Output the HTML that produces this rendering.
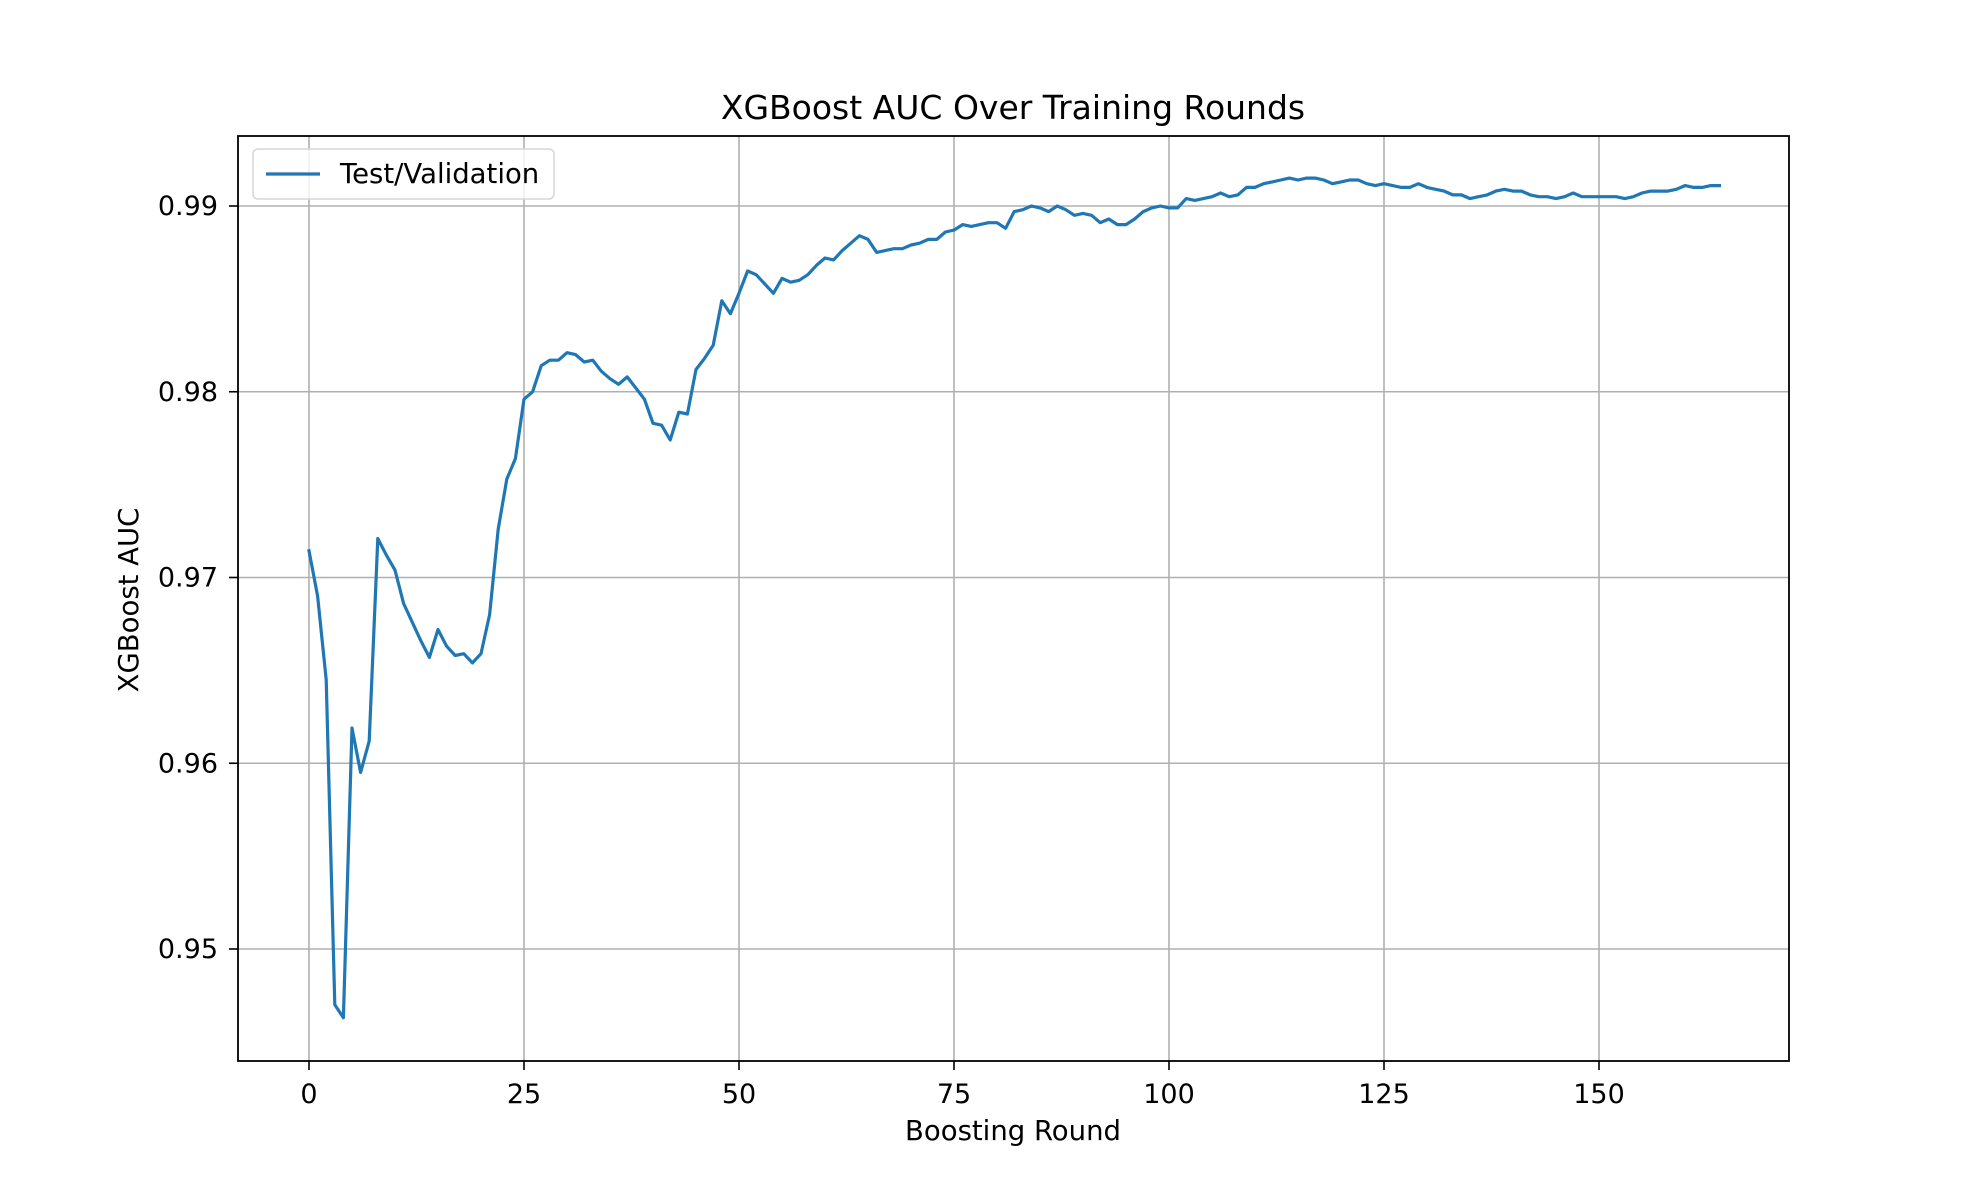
<!DOCTYPE html>
<html><head><meta charset="utf-8">
<style>
html,body{margin:0;padding:0;background:#fff;}
svg{display:block;font-family:"DejaVu Sans","Liberation Sans",sans-serif;}
</style></head>
<body>
<svg id="chart" width="1984" height="1188" viewBox="0 0 1984 1188">
<rect width="1984" height="1188" fill="#fff"/>
<g id="grid"></g>
<g id="ticks"></g>
<path id="series" fill="none" stroke="#1f77b4" stroke-width="3.2" stroke-linejoin="round" stroke-linecap="square"/>
<rect x="238" y="136" width="1551" height="925" fill="none" stroke="#000" stroke-width="1.8"/>
<text x="1013" y="119" font-size="33" text-anchor="middle" fill="#000">XGBoost AUC Over Training Rounds</text>
<text x="1013" y="1140" font-size="27.5" text-anchor="middle" fill="#000">Boosting Round</text>
<text x="138" y="600" font-size="27.5" text-anchor="middle" fill="#000" transform="rotate(-90 138 600)">XGBoost AUC</text>
<g>
<rect x="253" y="149" width="301" height="50" rx="5" fill="#fff" fill-opacity="0.8" stroke="#d6d6d6" stroke-width="1.5"/>
<line x1="266" y1="174" x2="320" y2="174" stroke="#1f77b4" stroke-width="3.2"/>
<text x="340" y="183" font-size="27.5" fill="#000">Test/Validation</text>
</g>
</svg>
<script>
const rounds = [];
const auc = [0.97144,0.9690,0.9645,0.9470,0.9463,0.9619,0.9595,0.9612,0.9721,0.9712,
0.9704,0.9686,0.9676,0.9666,0.9657,0.9672,0.9663,0.9658,0.9659,0.9654,
0.9659,0.9680,0.9726,0.9753,0.9764,0.9796,0.9800,0.9814,0.9817,0.9817,
0.9821,0.9820,0.9816,0.9817,0.9811,0.9807,0.9804,0.9808,0.9802,0.9796,
0.9783,0.9782,0.9774,0.9789,0.9788,0.9812,0.9818,0.9825,0.9849,0.9842,
0.9853,0.9865,0.9863,0.9858,0.9853,0.9861,0.9859,0.9860,0.9863,0.9868,
0.9872,0.9871,0.9876,0.9880,0.9884,0.9882,0.9875,0.9876,0.9877,0.9877,
0.9879,0.9880,0.9882,0.9882,0.9886,0.9887,0.9890,0.9889,0.9890,0.9891,
0.9891,0.9888,0.9897,0.9898,0.9900,0.9899,0.9897,0.9900,0.9898,0.9895,
0.9896,0.9895,0.9891,0.9893,0.9890,0.9890,0.9893,0.9897,0.9899,0.9900,
0.9899,0.9899,0.9904,0.9903,0.9904,0.9905,0.9907,0.9905,0.9906,0.9910,
0.9910,0.9912,0.9913,0.9914,0.9915,0.9914,0.9915,0.9915,0.9914,0.9912,
0.9913,0.9914,0.9914,0.9912,0.9911,0.9912,0.9911,0.9910,0.9910,0.9912,
0.9910,0.9909,0.9908,0.9906,0.9906,0.9904,0.9905,0.9906,0.9908,0.9909,
0.9908,0.9908,0.9906,0.9905,0.9905,0.9904,0.9905,0.9907,0.9905,0.9905,
0.9905,0.9905,0.9905,0.9904,0.9905,0.9907,0.9908,0.9908,0.9908,0.9909,
0.9911,0.9910,0.9910,0.9911,0.9911];
for (let i = 0; i < auc.length; i++) rounds.push(i);
const xTicks = [0,25,50,75,100,125,150];
const yTicks = [0.95,0.96,0.97,0.98,0.99];
const yTickLabels = ["0.95","0.96","0.97","0.98","0.99"];

const NS = "http://www.w3.org/2000/svg";
const xs = v => 309 + v * 8.6;
const ys = v => 206 + (0.99 - v) * 18575;
const grid = document.getElementById('grid');
const ticks = document.getElementById('ticks');
function mk(tag, attrs, parent){const e=document.createElementNS(NS,tag);for(const k in attrs)e.setAttribute(k,attrs[k]);parent.appendChild(e);return e;}
xTicks.forEach(t=>{
  const x=xs(t);
  const g=mk('line',{x1:x,y1:136,x2:x,y2:1061,stroke:'#b0b0b0','stroke-width':1.6},grid);
  
  
  const tk=mk('line',{x1:x,y1:1061,x2:x,y2:1070,stroke:'#000','stroke-width':1.6},ticks);
  
  
  const tx=mk('text',{x:x,y:1103,'font-size':27,'text-anchor':'middle',fill:'#000'},ticks);
  tx.textContent=String(t);
  
  
});
yTicks.forEach((t,i)=>{
  const y=ys(t);
  const g=mk('line',{x1:238,y1:y,x2:1789,y2:y,stroke:'#b0b0b0','stroke-width':1.6},grid);
  
  
  const tk=mk('line',{x1:229,y1:y,x2:238,y2:y,stroke:'#000','stroke-width':1.6},ticks);
  
  
  const tx=mk('text',{x:218,y:y+9,'font-size':27,'text-anchor':'end',fill:'#000'},ticks);
  tx.textContent=yTickLabels[i];
  
  
});
document.getElementById('series').setAttribute('d', auc.map((v,i)=>(i?'L':'M')+xs(rounds[i]).toFixed(1)+' '+ys(v).toFixed(1)).join(' '));
</script>
</body></html>
